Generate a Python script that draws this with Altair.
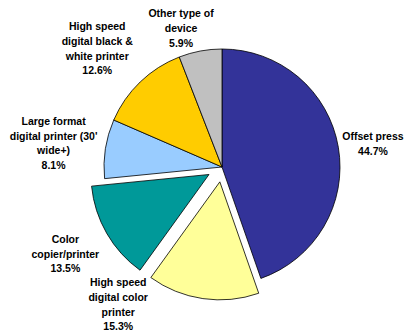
import altair as alt
import pandas as pd

# ---- data ----
categories = [
    "Offset press",
    "High speed digital color printer",
    "Color copier/printer",
    "Large format digital printer (30' wide+)",
    "High speed digital black & white printer",
    "Other type of device",
]
values = [44.7, 15.3, 13.5, 8.1, 12.6, 5.9]
label_text = [
    "Offset press",
    "High speed\ndigital color\nprinter",
    "Color\ncopier/printer",
    "Large format\ndigital printer (30'\nwide+)",
    "High speed\ndigital black &\nwhite printer",
    "Other type of\ndevice",
]
exploded = [False, True, True, False, False, False]

# ---- style / layout ----
colors = ["#333399", "#FFFF99", "#009999", "#99CCFF", "#FFCC00", "#C0C0C0"]
W, H = 409, 335
CX, CY = 222, 167
R = 118
EXPLODE = 15
LINE_H = 14.6
# label placement: angle shift (deg) from slice middle, and distance from centre
label_shift = [1.2, 28.6, 0.7, -1.1, -2.8, -5.9]
label_radius = [152.6, 173, 179.5, 170, 171.5, 144]

df = pd.DataFrame({
    "category": categories,
    "value": values,
    "label": label_text,
    "idx": list(range(len(categories))),
    "ex": [EXPLODE if e else 0 for e in exploded],
    "lshift": label_shift,
    "lrad": label_radius,
})

base = (
    alt.Chart(df)
    .transform_joinaggregate(total="sum(value)")
    .transform_window(cum="sum(value)", sort=[alt.SortField("idx")], frame=[None, 0])
    .transform_calculate(mid="(datum.cum - datum.value/2) / datum.total * 2 * PI")
    .transform_calculate(
        cx=f"{CX} + datum.ex * sin(datum.mid)",
        cy=f"{CY} - datum.ex * cos(datum.mid)",
        la="datum.mid + datum.lshift * PI / 180",
        txt="datum.label + '\\n' + format(datum.value, '.1f') + '%'",
    )
    .transform_calculate(
        lx=f"{CX} + datum.lrad * sin(datum.la)",
        ly=f"{CY} - datum.lrad * cos(datum.la) - (length(split(datum.txt, '\\n')) - 1) / 2 * {LINE_H}",
    )
)

arcs = base.mark_arc(outerRadius=R, stroke="black", strokeWidth=0.8).encode(
    theta=alt.Theta("value:Q", stack=True),
    order=alt.Order("idx:Q"),
    color=alt.Color("category:N", scale=alt.Scale(domain=categories, range=colors), legend=None),
    x=alt.X("cx:Q", scale=None),
    y=alt.Y("cy:Q", scale=None),
)

labels = base.mark_text(
    font="Liberation Sans", fontWeight="bold", fontSize=10.5, lineBreak="\n",
    lineHeight=LINE_H, align="center", baseline="middle", color="black",
).encode(
    x=alt.X("lx:Q", scale=None),
    y=alt.Y("ly:Q", scale=None),
    text="txt:N",
)

chart = (
    alt.layer(arcs, labels)
    .properties(width=W, height=H, autosize="none", padding=0, background="white")
    .configure_view(stroke=None)
)

chart.save("out.html", embed_options={"renderer": "svg", "actions": False})
